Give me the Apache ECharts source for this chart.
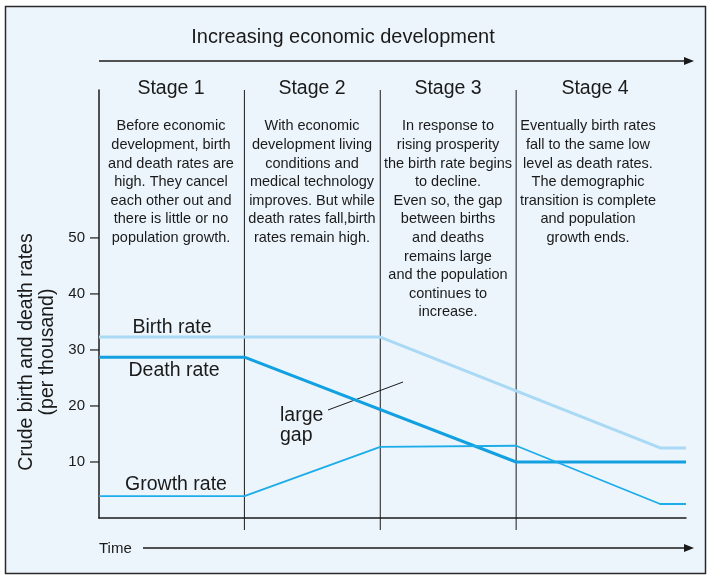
<!DOCTYPE html>
<html>
<head>
<meta charset="utf-8">
<script src="https://cdn.jsdelivr.net/npm/echarts@6/dist/echarts.min.js"></script>
<style>
  html, body { margin: 0; padding: 0; background: #fff; }
  #chart { width: 708px; height: 576px; }
</style>
</head>
<body>
<div id="chart"></div>
<script>
// time runs in "stages": 1, 2, 3 are the stage boundaries
const stageBounds = [1, 2, 3];
const stageNames = ['Stage 1', 'Stage 2', 'Stage 3', 'Stage 4'];
const stageNotes = [
  'Before economic\ndevelopment, birth\nand death rates are\nhigh. They cancel\neach other out and\nthere is little or no\npopulation growth.',
  'With economic\ndevelopment living\nconditions and\nmedical technology\nimproves. But while\ndeath rates fall,birth\nrates remain high.',
  'In response to\nrising prosperity\nthe birth rate begins\nto decline.\nEven so, the gap\nbetween births\nand deaths\nremains large\nand the population\ncontinues to\nincrease.',
  'Eventually birth rates\nfall to the same low\nlevel as death rates.\nThe demographic\ntransition is complete\nand population\ngrowth ends.'
];
const yTicks = [10, 20, 30, 40, 50];

const birthTime = [-0.07, 2, 4.06, 4.25];
const birthRate = [32.3, 32.3, 12.5, 12.5];
const deathTime = [-0.07, 1, 3, 4.25];
const deathRate = [28.7, 28.7, 10, 10];
const growthTime = [-0.07, 1, 2, 3, 4.06, 4.25];
const growthRate = [3.9, 3.9, 12.7, 12.9, 2.5, 2.5];

const FONT = '"Liberation Sans", Arial, sans-serif';
const INK = '#1a1a1a';

const zip = (xs, ys) => xs.map((x, i) => [x, ys[i]]);

const stageCenters = [171, 312, 448, 590];
const graphic = [
  {type: 'rect', shape: {x: 5.5, y: 6.5, width: 700, height: 567}, style: {fill: '#edf5fc', stroke: '#2a2a2a', lineWidth: 1.5}, z: -10},
  {type: 'text', x: 343, y: 37, style: {text: 'Increasing economic development', font: '20px ' + FONT, fill: INK, align: 'center', verticalAlign: 'middle'}},
  {type: 'line', shape: {x1: 99, y1: 61, x2: 688, y2: 61}, style: {stroke: INK, lineWidth: 1.6}},
  {type: 'polygon', shape: {points: [[694, 61], [684, 57], [684, 65]]}, style: {fill: INK}},
  {type: 'text', x: 99, y: 549, style: {text: 'Time', font: '15px ' + FONT, fill: INK, align: 'left', verticalAlign: 'middle'}},
  {type: 'line', shape: {x1: 143, y1: 548, x2: 688, y2: 548}, style: {stroke: INK, lineWidth: 1.6}},
  {type: 'polygon', shape: {points: [[694, 548], [684, 544], [684, 552]]}, style: {fill: INK}},
  {type: 'text', x: 172, y: 328, style: {text: 'Birth rate', font: '19.5px ' + FONT, fill: INK, align: 'center', verticalAlign: 'middle'}},
  {type: 'text', x: 174, y: 371, style: {text: 'Death rate', font: '19.5px ' + FONT, fill: INK, align: 'center', verticalAlign: 'middle'}},
  {type: 'text', x: 176, y: 485, style: {text: 'Growth rate', font: '19.5px ' + FONT, fill: INK, align: 'center', verticalAlign: 'middle'}},
  {type: 'text', x: 280, y: 426, style: {text: 'large\ngap', font: '19.5px ' + FONT, lineHeight: 20, fill: INK, align: 'left', verticalAlign: 'middle'}},
  {type: 'line', shape: {x1: 328, y1: 410, x2: 403, y2: 382}, style: {stroke: INK, lineWidth: 1}},
  {type: 'text', x: 37, y: 352, rotation: Math.PI / 2, style: {text: 'Crude birth and death rates\n(per thousand)', font: '19.5px ' + FONT, lineHeight: 21, fill: INK, align: 'center', verticalAlign: 'middle'}}
];
stageNames.forEach((name, i) => {
  graphic.push({type: 'text', x: stageCenters[i] + (i === 3 ? 5 : 0), y: 89, style: {text: name, font: '19.5px ' + FONT, fill: INK, align: 'center', verticalAlign: 'middle'}});
  graphic.push({type: 'text', x: stageCenters[i] - (i === 3 ? 2 : 0), y: 117, style: {text: stageNotes[i], font: '14.5px ' + FONT, lineHeight: 18.6, fill: INK, align: 'center', verticalAlign: 'top'}});
});

const chart = echarts.init(document.getElementById('chart'));
chart.setOption({
  animation: false,
  backgroundColor: '#fff',
  textStyle: {fontFamily: FONT},
  grid: {left: 99, right: 22, top: 90, bottom: 58},
  xAxis: {
    type: 'value', min: -0.07, max: 4.25,
    axisLine: {show: true, lineStyle: {color: INK, width: 1.5}},
    axisTick: {show: false}, axisLabel: {show: false}, splitLine: {show: false}
  },
  yAxis: {
    type: 'value', min: 0, max: 76.4, interval: 10,
    axisLine: {show: true, onZero: false, lineStyle: {color: INK, width: 1.5}},
    axisTick: {show: false},
    splitLine: {show: false},
    axisLabel: {
      color: INK, fontSize: 15, margin: 14,
      formatter: v => (yTicks.includes(v) ? String(v) : '')
    }
  },
  graphic,
  series: [
    {
      // stage dividers, running a little below the time axis
      type: 'custom',
      clip: false,
      data: stageBounds.map(v => [v]),
      renderItem: (params, api) => {
        const top = api.coord([api.value(0), 76.4]);
        const bot = api.coord([api.value(0), 0]);
        return {type: 'line', shape: {x1: top[0], y1: top[1], x2: bot[0], y2: bot[1] + 12}, style: {stroke: INK, lineWidth: 1}};
      },
      z: 1
    },
    {
      // y ticks outside the axis
      type: 'scatter',
      clip: false,
      symbol: 'rect',
      symbolSize: [9, 1.5],
      symbolOffset: [-4.5, 0],
      itemStyle: {color: INK},
      data: yTicks.map(v => [-0.07, v]),
      silent: true
    },
    {name: 'Birth rate', type: 'line', data: zip(birthTime, birthRate), symbol: 'none', lineStyle: {color: '#a9d9f4', width: 3}, z: 3},
    {name: 'Death rate', type: 'line', data: zip(deathTime, deathRate), symbol: 'none', lineStyle: {color: '#12a0e0', width: 3}, z: 4},
    {name: 'Growth rate', type: 'line', data: zip(growthTime, growthRate), symbol: 'none', lineStyle: {color: '#1cace9', width: 1.8}, z: 5}
  ]
});
</script>
</body>
</html>
